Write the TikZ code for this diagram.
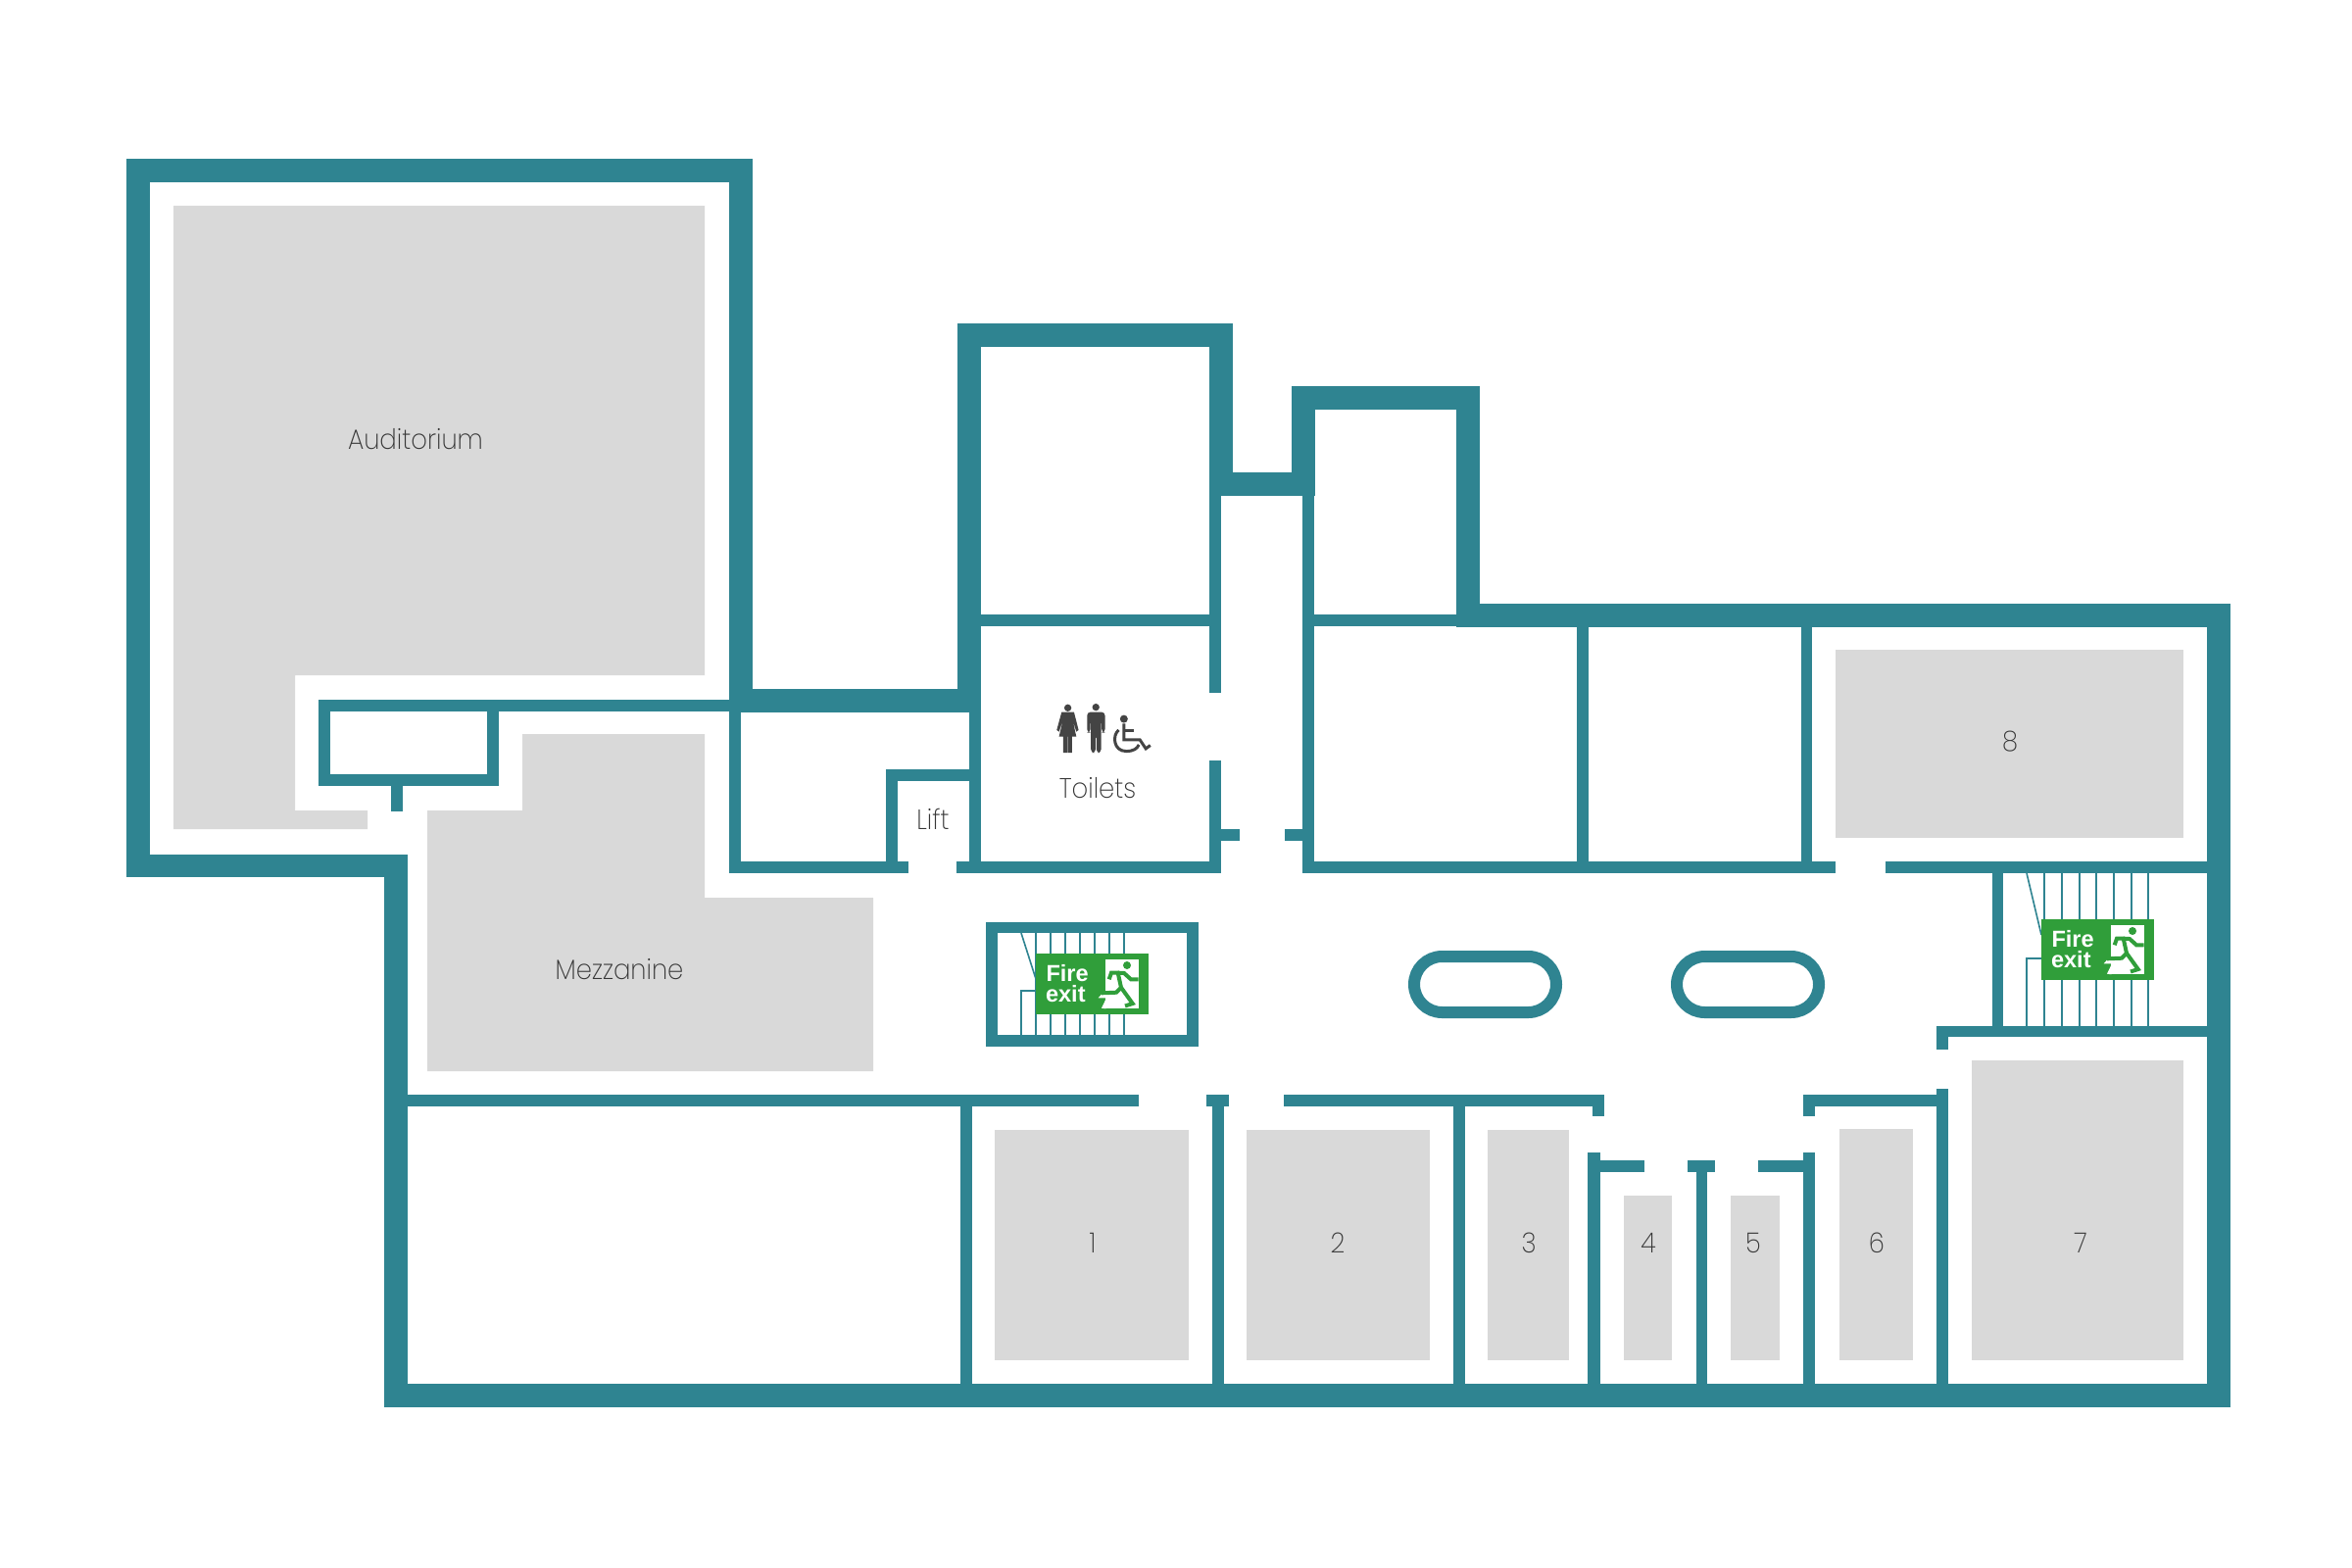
\documentclass[tikz,border=0pt]{standalone}
\usepackage{fontspec}
\setmainfont{Liberation Sans}
\newfontfamily\roomfont[UprightFont=* ExtraLight, FakeStretch=0.91]{Poppins}
\definecolor{wallteal}{RGB}{47,132,145}
\definecolor{roomgrey}{RGB}{217,217,217}
\definecolor{signgreen}{RGB}{48,158,58}
\definecolor{labelgrey}{RGB}{68,68,68}
\newcommand{\firesign}[2]{%
	\begin{scope}[shift={(#2)}]
		\fill[signgreen] (0,0) rectangle (115,62);
		\fill[white] (71.3,5.7) rectangle (104.7,56.3);
		\fill[white] (71.3,38)--(68.7,39.7)--(63.7,45.3)--(72,45.3)--(67,55.7)--(71.3,56.3)--cycle;
		\fill[signgreen] (93,12) circle (4);
		\draw[runner] (74.7,26.3)--(77,19.7)--(83.7,19.7)--(87,34.7)--(98.7,51)--(91,53.5);
		\draw[runner] (83.7,19.7)--(90,20)--(97,26.3)--(104.7,26.3);
		\draw[runner] (87,34.7)--(82,39.7)--(67,40.3);
		\node[signtext] (#1-fire) at (9.8,28.7) {Fire};
		\node[signtext] (#1-exit) at (9.3,49.7) {exit};
	\end{scope}}
\begin{document}
\begin{tikzpicture}[x=0.01cm, y=-0.01cm, line join=miter, line cap=butt,
	wall/.style={fill=wallteal},
	room/.style={fill=roomgrey},
	tread/.style={draw=wallteal, line width=0.16mm},
	pod/.style={draw=wallteal, line width=1.2mm, rounded corners=2.85mm},
	icon/.style={fill=labelgrey},
	iconline/.style={draw=labelgrey, line width=0.3mm},
	runner/.style={draw=signgreen, line width=0.4mm},
	signtext/.style={text=white, inner sep=0pt, anchor=base west, font=\fontsize{6.7pt}{7pt}\selectfont\bfseries},
	roomlabel/.style={text=labelgrey!80!black, inner sep=0pt, font=\fontsize{8.1pt}{9pt}\selectfont\roomfont}]
	\useasboundingbox (0,0) rectangle (2400,1600);
	\fill[white] (0,0) rectangle (2400,1600);

	\fill[room] (177,210)--(719,210)--(719,689)--(301,689)--(301,827)--(375,827)--(375,846)--(177,846)--cycle;
	\fill[room] (436,827)--(533,827)--(533,749)--(719,749)--(719,916)--(891,916)--(891,1093)--(436,1093)--cycle;
	\foreach \xa/\ya/\xb/\yb in {1015/1153/1213/1388, 1272/1153/1459/1388, 1518/1153/1601/1388, 1657/1220/1706/1388,
		1766/1220/1816/1388, 1877/1152/1952/1388, 2012/1082/2228/1388, 1873/663/2228/855}{
		\fill[room] (\xa,\ya) rectangle (\xb,\yb);}

	\foreach \xa/\ya/\xb/\yb in {129/162/768/186, 129/162/153/895, 129/872/416/895, 744/162/768/727,
		325/714/744/726, 325/714/337/802, 497/714/509/802, 325/790/509/802, 399/802/411/828,
		392/872/416/1436, 392/1412/2276/1436, 2252/616/2276/1436,
		416/1117/1162/1129, 1231/1117/1254/1129, 1310/1117/1637/1129, 1625/1117/1637/1139,
		980/1129/992/1412, 1237/1129/1249/1412, 1483/1129/1495/1412,
		1620/1176/1633/1412, 1620/1184/1678/1196, 1722/1184/1750/1196, 1731/1196/1742/1412,
		1794/1184/1852/1196, 1840/1176/1852/1412,
		1840/1117/1988/1129, 1840/1117/1852/1139, 1976/1111/1988/1412,
		1976/1047/2252/1058, 1976/1047/1988/1071, 2033/891/2044/1047,
		1329/879/1873/891, 1924/879/2252/891, 1609/640/1621/879, 1838/640/1849/879,
		1486/616/2276/640, 1318/394/1510/418, 1318/394/1342/506, 1486/394/1510/640, 1234/482/1342/506,
		977/330/1258/354, 977/330/1001/727, 1234/330/1258/506,
		1001/627/1234/639, 1341/627/1486/639, 744/703/1001/727,
		744/727/756/891, 989/727/1001/891, 744/879/927/891, 976/879/1246/891,
		904/785/916/879, 904/785/989/797,
		1234/506/1246/707, 1234/776/1246/891, 1246/846/1265/858, 1311/846/1329/858, 1329/506/1341/891,
		1006/941/1223/952, 1006/1056/1223/1068, 1006/941/1018/1068, 1211/941/1223/1068}{
		\fill[wall] (\xa,\ya) rectangle (\xb,\yb);}

	\draw[pod] (1443,976) rectangle (1588,1033);
	\draw[pod] (1711,976) rectangle (1856,1033);

	\foreach \i in {1057,1072,1087,1102,1117,1132,1147}{\draw[tread] (\i,952)--(\i,1056);}
	\draw[tread] (1042,952)--(1057,999);
	\draw[tread] (1042,1056)--(1042,1011)--(1057,1011);
	\firesign{left}{1057,973}

	\foreach \i in {2086,2104,2122,2139,2157,2175,2192}{\draw[tread] (\i,891)--(\i,1047);}
	\draw[tread] (2068,891)--(2083,954);
	\draw[tread] (2068,1047)--(2068,978)--(2083,978);
	\firesign{right}{2083,938}

	\begin{scope}[shift={(1050,700)}, x=0.00333cm, y=-0.00333cm]
		\fill[icon] (119,67) circle (11);
		\fill[icon] (100,80)--(138,80)--(152,135)--(145,140)--(134,105)--(145,155)--(132,155)--(132,205)--(120,205)--(120,155)--(118,155)--(118,205)--(105,205)--(105,155)--(92,155)--(104,105)--(92,140)--(85,135)--cycle;
		\fill[icon] (205,65) circle (11);
		\fill[icon, rounded corners=1pt] (178,80)--(233,80)--(233,143)--(223,143)--(223,105)--(221,105)--(221,205)--(207,205)--(207,150)--(204,150)--(204,205)--(190,205)--(190,105)--(188,105)--(188,143)--(178,143)--cycle;
		\fill[icon] (291,101) circle (12);
		\draw[iconline] (291,115)--(291,165)--(340,165)--(358,192)--(372,182);
		\draw[iconline] (291,138)--(322,138);
		\draw[iconline] (275,135) .. controls (255,150) and (258,200) .. (298,200) .. controls (320,200) and (332,192) .. (337,180);
	\end{scope}

	\node[roomlabel] (auditorium) at (424,448) {Auditorium};
	\node[roomlabel] (mezzanine) at (632,989) {Mezzanine};
	\node[roomlabel] (lift) at (952,836) {Lift};
	\node[roomlabel] (toilets) at (1120,804) {Toilets};
	\foreach \n/\xn/\yn in {1/1115/1268, 2/1365/1268, 3/1560/1268, 4/1682/1268, 5/1789/1268, 6/1915/1268, 7/2123/1268, 8/2051/757}{
		\node[roomlabel] (room\n) at (\xn,\yn) {\n};}
\end{tikzpicture}
\end{document}
